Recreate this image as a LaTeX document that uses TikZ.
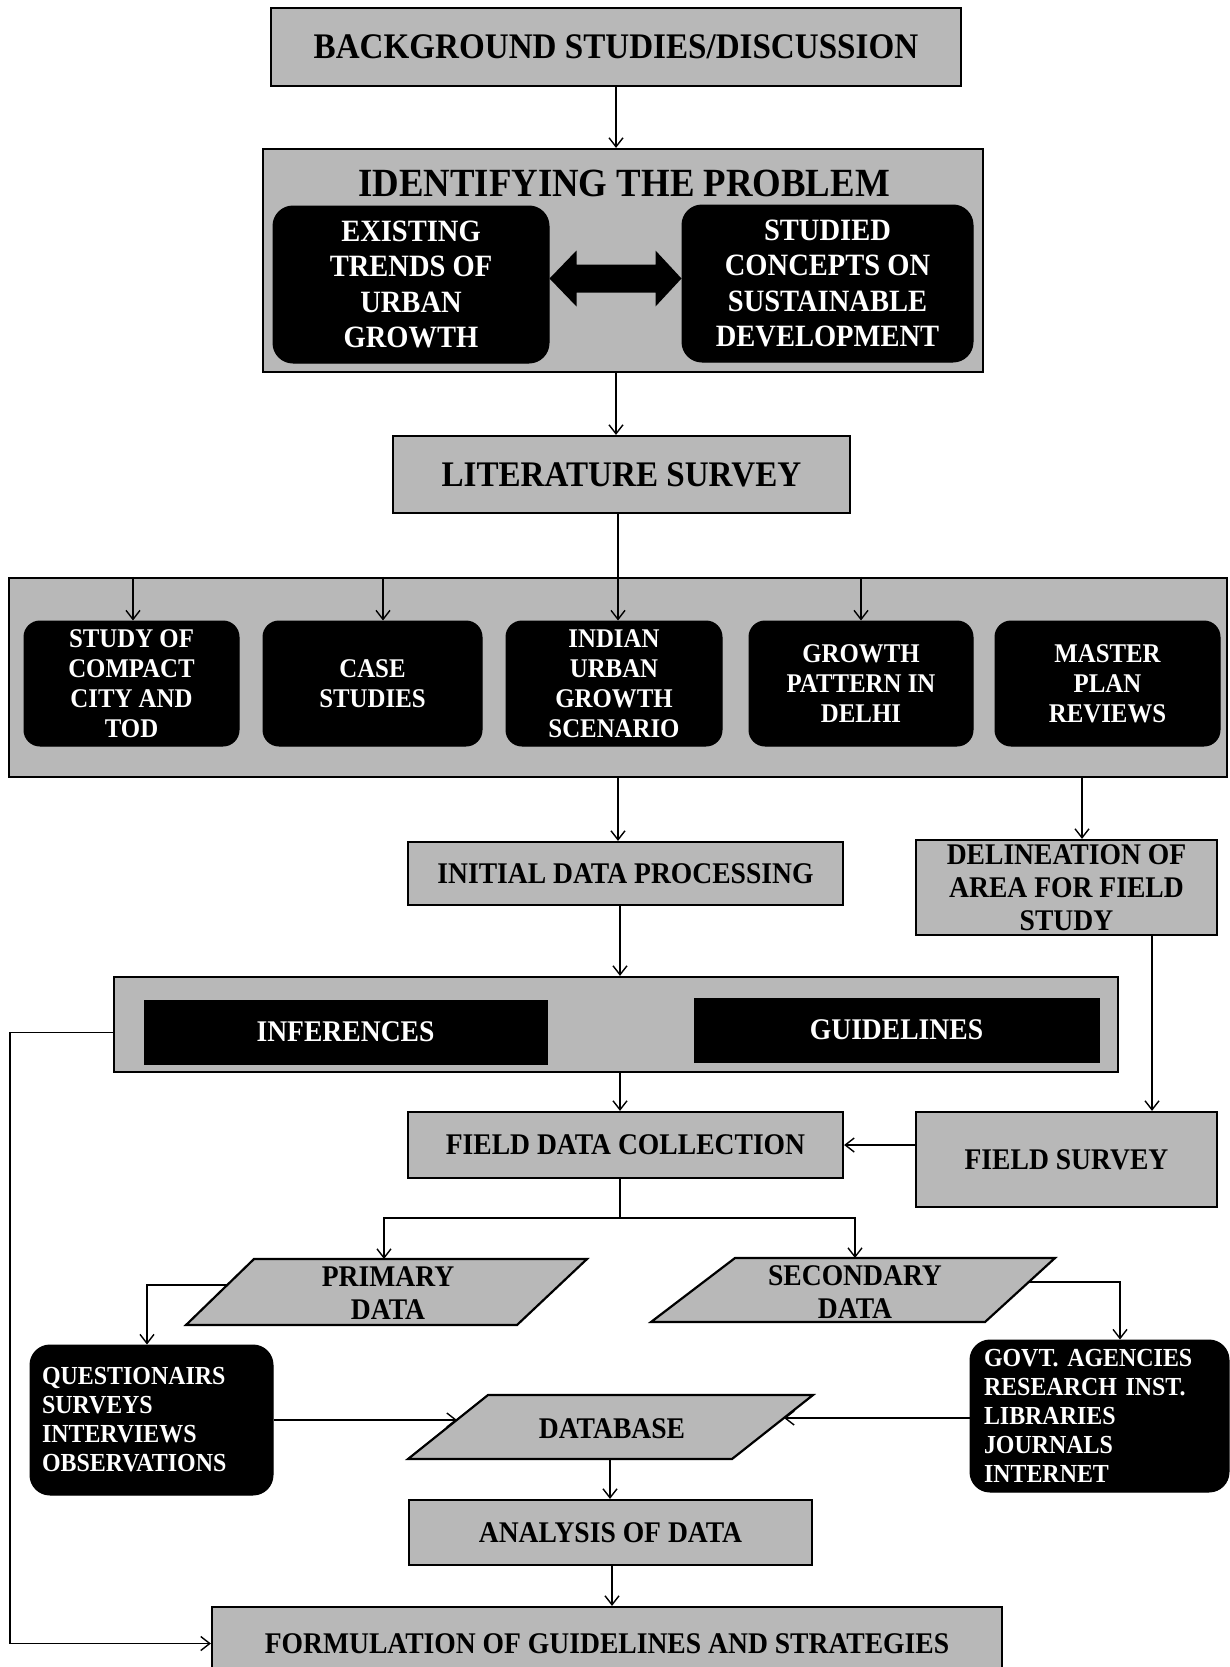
\documentclass[tikz,border=0pt]{standalone}
\usepackage{fontspec}
\newfontfamily\tms[FakeStretch=0.92]{Liberation Serif}
\usetikzlibrary{arrows.meta}
\definecolor{boxgray}{gray}{0.72}
\frenchspacing
\begin{document}
\begin{tikzpicture}[x=1pt,y=-1pt,
  graybox/.style={draw=black,line width=2.2pt,fill=boxgray,inner sep=0pt,align=center,text=black},
  blackbox/.style={draw=black,fill=black,line width=1pt,rounded corners=16pt,inner sep=0pt,align=center,text=white},
  flatblack/.style={draw=black,fill=black,line width=1pt,inner sep=0pt,align=center,text=white},
  pgram/.style={draw=black,line width=2.2pt,fill=boxgray},
  conn/.style={line width=1.4pt,-{Straight Barb[length=9pt,width=14pt]}},
  plain/.style={line width=1.4pt},
  f40/.style={font=\tms\bfseries\fontsize{40}{44}\selectfont},
  f36/.style={font=\tms\bfseries\fontsize{36}{40}\selectfont},
  f31/.style={font=\tms\bfseries\fontsize{31}{35.5}\selectfont},
  f30/.style={font=\tms\bfseries\fontsize{30}{33}\selectfont},
  f27/.style={font=\tms\bfseries\fontsize{27}{30}\selectfont},
  f26/.style={font=\tms\bfseries\fontsize{26}{29}\selectfont}]
\useasboundingbox (0,0) rectangle (1230,1667);

% top
\node[graybox,f36,minimum width=690,minimum height=78] (bg) at (616,47) {BACKGROUND STUDIES/DISCUSSION};
\node[graybox,minimum width=720,minimum height=223] (ident) at (623,260.5) {};
\node[f40] (identt) at (624,183) {IDENTIFYING THE PROBLEM};
\node[blackbox,f31,rounded corners=20pt,minimum width=276,minimum height=157] (ex) at (411,284.5) {EXISTING\\TRENDS OF\\URBAN\\GROWTH};
\node[blackbox,f31,rounded corners=20pt,minimum width=291,minimum height=157] (st) at (827.5,283.5) {STUDIED\\CONCEPTS ON\\SUSTAINABLE\\DEVELOPMENT};
\fill[black] ([yshift=6pt]ex.east) -- ++(27,-28) -- ++(0,14) -- ++(79,0) -- ++(0,-14) -- ++(26,28)
  -- ++(-26,28) -- ++(0,-14) -- ++(-79,0) -- ++(0,14) -- cycle;
\draw[conn] (bg.south) -- (bg.south |- ident.north);

\node[graybox,f36,minimum width=457,minimum height=77] (lit) at (621.5,474.5) {LITERATURE SURVEY};
\draw[conn] ([xshift=-7pt]ident.south) -- ([xshift=-7pt]ident.south |- lit.north);

% literature block
\node[graybox,minimum width=1218,minimum height=199] (big) at (618,677.5) {};
\node[blackbox,f27,minimum width=215,minimum height=125] (i1) at (131.5,683.5) {STUDY OF\\COMPACT\\CITY AND\\TOD};
\node[blackbox,f27,minimum width=219,minimum height=125] (i2) at (372.5,683.5) {CASE\\STUDIES};
\node[blackbox,f27,minimum width=216,minimum height=125] (i3) at (614,683.5) {INDIAN\\URBAN\\GROWTH\\SCENARIO};
\node[blackbox,f27,minimum width=224,minimum height=125] (i4) at (861,683.5) {GROWTH\\PATTERN IN\\DELHI};
\node[blackbox,f27,minimum width=225,minimum height=125] (i5) at (1107.5,683.5) {MASTER\\PLAN\\REVIEWS};
\draw[conn] ([xshift=-3.5pt]lit.south) -- ([xshift=-3.5pt]lit.south |- i3.north);
\draw[conn] ([xshift=1.5pt]i1.north |- big.north) -- ([xshift=1.5pt]i1.north);
\draw[conn] ([xshift=10.5pt]i2.north |- big.north) -- ([xshift=10.5pt]i2.north);
\draw[conn] (i4.north |- big.north) -- (i4.north);

% processing
\node[graybox,f30,minimum width=435,minimum height=63] (init) at (625.5,873.5) {INITIAL DATA PROCESSING};
\node[graybox,f30,minimum width=301,minimum height=95] (del) at (1066.5,887.5) {DELINEATION OF\\AREA FOR FIELD\\STUDY};
\draw[conn] ([xshift=-7.5pt]init.north |- big.south) -- ([xshift=-7.5pt]init.north);
\draw[conn] ([xshift=15.5pt]del.north |- big.south) -- ([xshift=15.5pt]del.north);

\node[graybox,minimum width=1004,minimum height=95] (ig) at (616,1024.5) {};
\node[flatblack,f30,minimum width=403,minimum height=64] (inf) at (345.5,1032) {INFERENCES};
\node[flatblack,f30,minimum width=405,minimum height=64] (gui) at (896.5,1030) {GUIDELINES};
\draw[conn] ([xshift=-5.5pt]init.south) -- ([xshift=-5.5pt]init.south |- ig.north);

\node[graybox,f30,minimum width=435,minimum height=66] (fdc) at (625.5,1145) {FIELD DATA COLLECTION};
\node[graybox,f30,minimum width=301,minimum height=95] (fs) at (1066.5,1159.5) {FIELD SURVEY};
\draw[conn] ([xshift=4pt]ig.south) -- ([xshift=4pt]ig.south |- fdc.north);
\draw[conn] ([xshift=85.5pt]del.south) -- ([xshift=85.5pt]del.south |- fs.north);
\draw[conn] (fs.west |- fdc.east) -- (fdc.east);

% data branches
\draw[pgram] (254,1259) -- (587,1259) -- (517,1325) -- (186,1325) -- cycle;
\node[f30,align=center] (pri) at (388,1293) {PRIMARY\\DATA};
\draw[pgram] (735,1258) -- (1055,1258) -- (985,1322) -- (651,1322) -- cycle;
\node[f30,align=center] (sec) at (855,1292) {SECONDARY\\DATA};
\coordinate (priin) at (384,1259);
\coordinate (secin) at (855,1258);
\coordinate (priout) at (227,1285);
\coordinate (secout) at (1029,1282);
\coordinate (split) at (620,1218);
\draw[plain] ([xshift=-5.5pt]fdc.south) -- (split);
\draw[conn] (split) -| (priin);
\draw[conn] (split) -| (secin);

\node[blackbox,f26,rounded corners=20pt,minimum width=243,minimum height=150,text width=219,align=left] (qos) at (151.5,1420) {QUESTIONAIRS\\SURVEYS\\INTERVIEWS\\OBSERVATIONS};
\node[blackbox,f26,rounded corners=20pt,minimum width=259,minimum height=152,text width=231,align=left] (gov) at (1099.5,1416) {GOVT. AGENCIES\\RESEARCH INST.\\LIBRARIES\\JOURNALS\\INTERNET};
\draw[conn] (priout) -| ([xshift=-4.5pt]qos.north);
\draw[conn] (secout) -| ([xshift=20.5pt]gov.north);

\draw[pgram] (488,1395) -- (813,1395) -- (732,1459) -- (408,1459) -- cycle;
\node[f30] (db) at (612,1429) {DATABASE};
\coordinate (dbl) at (457,1420);
\coordinate (dbr) at (784,1418);
\coordinate (dbb) at (610,1459);
\draw[conn] (qos.east |- dbl) -- (dbl);
\draw[conn] (gov.west |- dbr) -- (dbr);

\node[graybox,f30,minimum width=403,minimum height=65] (an) at (610.5,1532.5) {ANALYSIS OF DATA};
\draw[conn] (dbb) -- (dbb |- an.north);
\node[graybox,f30,minimum width=790,minimum height=73] (form) at (607,1643.5) {FORMULATION OF GUIDELINES AND STRATEGIES};
\draw[conn] ([xshift=1.5pt]an.south) -- ([xshift=1.5pt]an.south |- form.north);

\coordinate (rail) at (10,1643.5);
\draw[conn] ([yshift=-8pt]ig.west) -| (rail) -- (form.west);
\end{tikzpicture}
\end{document}
